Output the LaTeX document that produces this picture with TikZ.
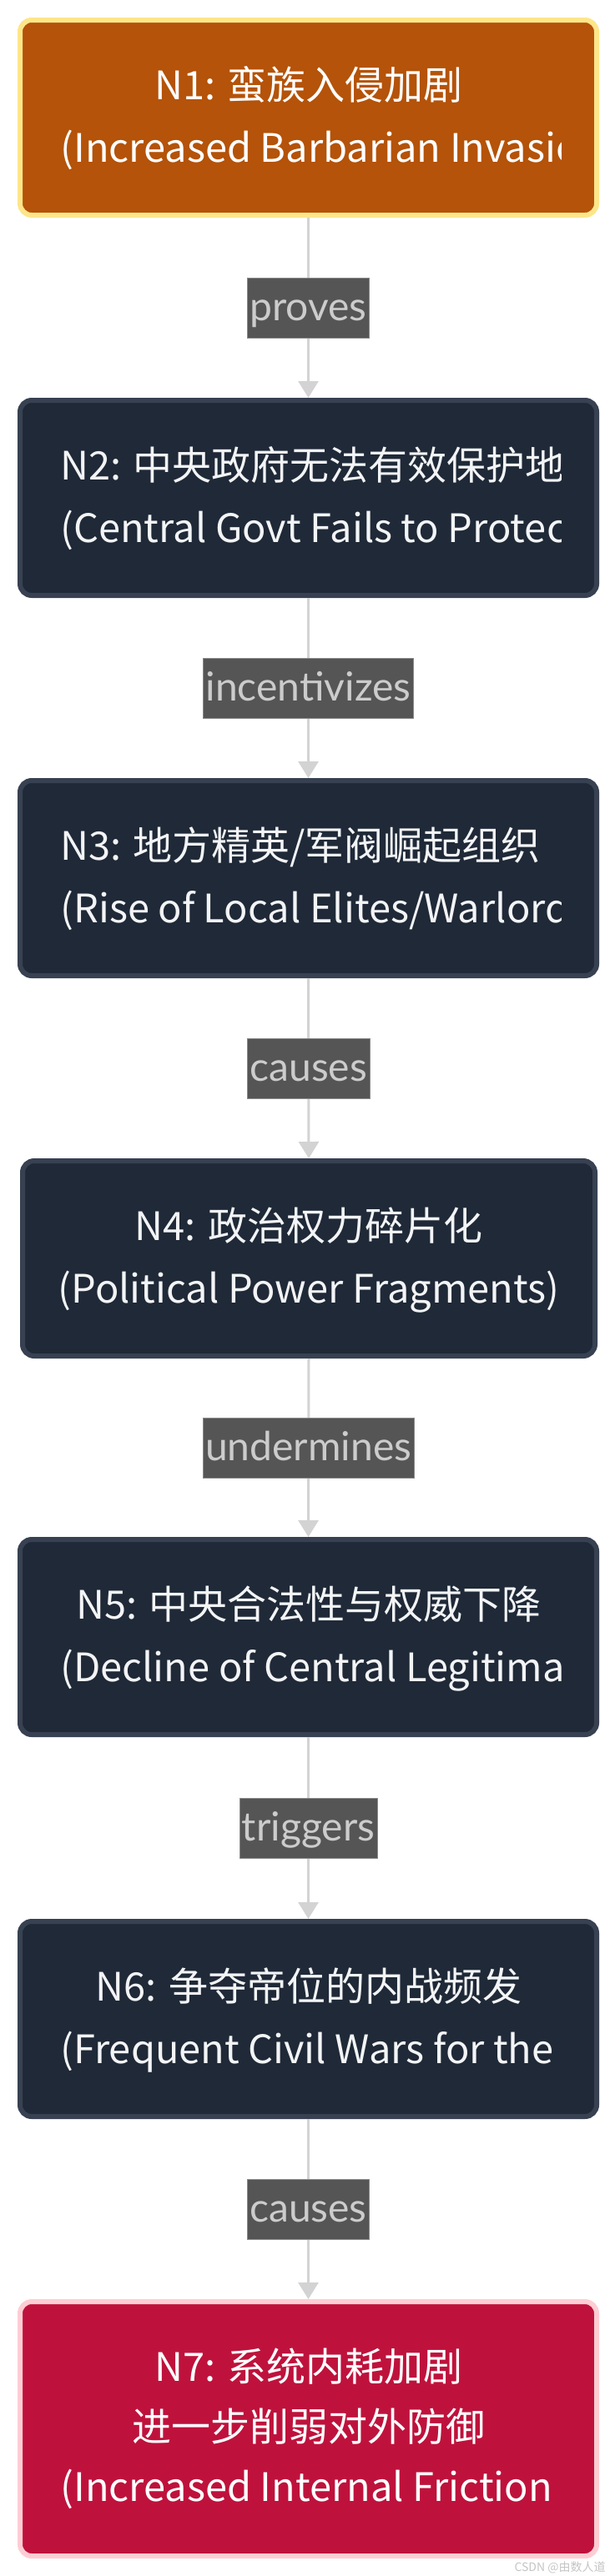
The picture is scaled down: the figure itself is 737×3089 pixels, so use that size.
\documentclass[tikz,border=0pt]{standalone}
\usepackage{fontspec}
\setmainfont{Noto Sans CJK SC}
\newfontfamily\latofont{Lato}
\usetikzlibrary{arrows.meta}
\definecolor{amberfill}{HTML}{B45309}
\definecolor{amberstroke}{HTML}{FDE68A}
\definecolor{darkfill}{HTML}{1F2937}
\definecolor{darkstroke}{HTML}{374151}
\definecolor{rosefill}{HTML}{BE123C}
\definecolor{rosestroke}{HTML}{FECDD3}
\definecolor{txtlight}{HTML}{F3F4F6}
\definecolor{edgecol}{HTML}{D3D3D3}
\definecolor{lblfill}{HTML}{555555}
\definecolor{lblline}{HTML}{8A8A8A}
\definecolor{lbltext}{HTML}{CCCCCC}
\definecolor{wmark}{HTML}{C4C4C4}
\begin{document}
\begin{tikzpicture}[x=0.5pt,y=-0.5pt,
  box/.style={rectangle, rounded corners=7pt, line width=3pt, minimum width=345.5pt, minimum height=117pt, inner sep=0pt},
  amberbox/.style={box, fill=amberfill, draw=amberstroke},
  darkbox/.style={box, fill=darkfill, draw=darkstroke},
  rosebox/.style={box, fill=rosefill, draw=rosestroke, minimum height=152.5pt},
  ntext/.style={inner sep=0pt, font=\fontsize{23.5pt}{28pt}\selectfont, anchor=base},
  ltext/.style={ntext, anchor=base west},
  lbl/.style={fill=lblfill, draw=lblline, line width=0.4pt, text=lbltext, font=\latofont\fontsize{24pt}{29pt}\selectfont, inner xsep=1.5pt, inner ysep=0pt, text height=25.75pt, text depth=10.25pt},
  conn/.style={draw=edgecol, line width=1.5pt, -{Triangle[width=12pt,length=10pt]}}
]
\useasboundingbox (0,0) rectangle (737,3089);

% boxes
\node[amberbox] (n1) at (369.5,141) {};
\node[darkbox]  (n2) at (369.5,597) {};
\node[darkbox]  (n3) at (369.5,1053) {};
\node[darkbox, minimum width=343pt] (n4) at (370,1509) {};
\node[darkbox]  (n5) at (369.5,1963) {};
\node[darkbox]  (n6) at (369.5,2421) {};
\node[rosebox]  (n7) at (369.5,2912.5) {};

% connectors
\draw[conn] (n1.south) -- node[lbl] (e1) {proves} (n2.north);
\draw[conn] (n2.south) -- node[lbl] (e2) {incentivizes} (n3.north);
\draw[conn] (n3.south) -- node[lbl] (e3) {causes} (n4.north);
\draw[conn] (n4.south) -- node[lbl] (e4) {undermines} (n5.north);
\draw[conn] (n5.south) -- node[lbl] (e5) {triggers} (n6.north);
\draw[conn] (n6.south) -- node[lbl] (e6) {causes} (n7.north);

% texts
\begin{scope}
  \clip (60,30) rectangle (672,252);
  \node[ntext, text=white] (t1a) at (370,119) {N1: 蛮族入侵加剧};
  \node[ltext, text=white] (t1b) at (72,194) {(Increased Barbarian Invasio};
\end{scope}
\begin{scope}
  \clip (60,486) rectangle (672,708);
  \node[ltext, text=txtlight] (t2a) at (72,575) {N2: 中央政府无法有效保护地};
  \node[ltext, text=txtlight] (t2b) at (72,650) {(Central Govt Fails to Protec};
\end{scope}
\begin{scope}
  \clip (60,942) rectangle (672,1164);
  \node[ltext, text=txtlight] (t3a) at (72,1031) {N3: 地方精英/军阀崛起组织};
  \node[ltext, text=txtlight] (t3b) at (72,1106) {(Rise of Local Elites/Warlord};
\end{scope}
\begin{scope}
  \clip (60,1398) rectangle (672,1620);
  \node[ntext, text=txtlight] (t4a) at (370,1487) {N4: 政治权力碎片化};
  \node[ntext, text=txtlight] (t4b) at (370,1562) {(Political Power Fragments)};
\end{scope}
\begin{scope}
  \clip (60,1852) rectangle (672,2074);
  \node[ntext, text=txtlight] (t5a) at (370,1941) {N5: 中央合法性与权威下降};
  \node[ltext, text=txtlight] (t5b) at (72,2016) {(Decline of Central Legitima};
\end{scope}
\begin{scope}
  \clip (60,2310) rectangle (672,2532);
  \node[ntext, text=txtlight] (t6a) at (370,2399) {N6: 争夺帝位的内战频发};
  \node[ltext, text=txtlight] (t6b) at (72,2474) {(Frequent Civil Wars for the};
\end{scope}
\begin{scope}
  \clip (60,2766) rectangle (672,3060);
  \node[ntext, text=white] (t7a) at (370,2855) {N7: 系统内耗加剧};
  \node[ntext, text=white] (t7b) at (370,2927) {进一步削弱对外防御};
  \node[ltext, text=white] (t7c) at (72,2999) {(Increased Internal Friction};
\end{scope}

% watermark
\node[inner sep=0pt, anchor=base east, text=wmark, font=\fontsize{7pt}{8pt}\selectfont] (wm) at (726,3083) {CSDN @由数人道};
\end{tikzpicture}
\end{document}
